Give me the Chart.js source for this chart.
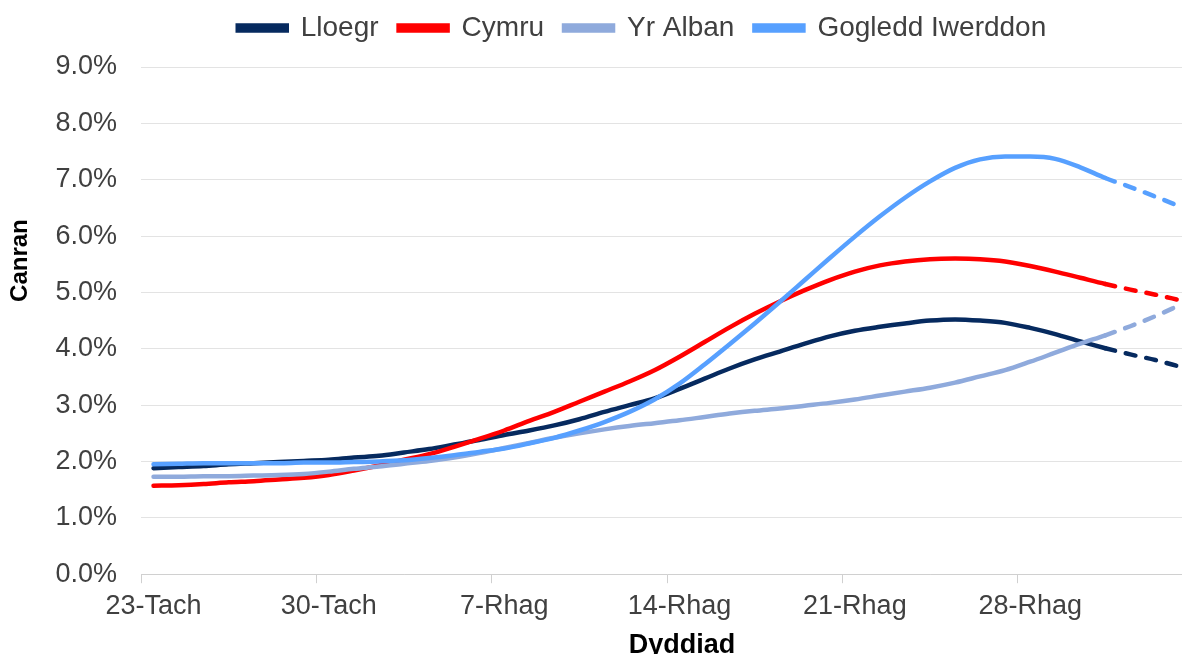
<!DOCTYPE html>
<html>
<head>
<meta charset="utf-8">
<script src="https://cdn.jsdelivr.net/npm/chart.js@4.4.1/dist/chart.umd.min.js"></script>
<style>
  html, body { margin: 0; padding: 0; overflow: hidden; background: #fff; }
  canvas { display: block; }
</style>
</head>
<body>
<canvas id="chart-canran" width="1284" height="670"></canvas>
<script>
var dyddiadau = [
    '23-Tach', '24-Tach', '25-Tach', '26-Tach', '27-Tach', '28-Tach', '29-Tach', '30-Tach',
    '1-Rhag', '2-Rhag', '3-Rhag', '4-Rhag', '5-Rhag', '6-Rhag', '7-Rhag', '8-Rhag',
    '9-Rhag', '10-Rhag', '11-Rhag', '12-Rhag', '13-Rhag', '14-Rhag', '15-Rhag', '16-Rhag',
    '17-Rhag', '18-Rhag', '19-Rhag', '20-Rhag', '21-Rhag', '22-Rhag', '23-Rhag', '24-Rhag',
    '25-Rhag', '26-Rhag', '27-Rhag', '28-Rhag', '29-Rhag', '30-Rhag', '31-Rhag',
    '1-Ion', '2-Ion', '3-Ion'
];

var lloegr = [1.88, 1.90, 1.92, 1.95, 1.97, 1.99, 2.01, 2.03, 2.07, 2.10,
    2.16, 2.22, 2.30, 2.38, 2.47, 2.55, 2.64, 2.75, 2.88, 3.00,
    3.12, 3.29, 3.47, 3.65, 3.81, 3.95, 4.09, 4.22, 4.32, 4.39,
    4.45, 4.50, 4.52, 4.50, 4.46, 4.37, 4.26, 4.13, 4.01, 3.90,
    3.80, 3.68];
var cymru = [1.57, 1.58, 1.60, 1.63, 1.65, 1.68, 1.71, 1.76, 1.84, 1.93,
    2.03, 2.13, 2.26, 2.40, 2.55, 2.72, 2.88, 3.06, 3.24, 3.42,
    3.62, 3.86, 4.12, 4.38, 4.62, 4.84, 5.04, 5.22, 5.37, 5.48,
    5.55, 5.59, 5.60, 5.59, 5.55, 5.47, 5.37, 5.26, 5.15, 5.05,
    4.96, 4.86];
var yrAlban = [1.73, 1.73, 1.74, 1.74, 1.75, 1.76, 1.78, 1.82, 1.87, 1.91,
    1.96, 2.01, 2.07, 2.15, 2.24, 2.33, 2.42, 2.50, 2.57, 2.63,
    2.68, 2.73, 2.79, 2.85, 2.90, 2.94, 2.99, 3.04, 3.10, 3.17,
    3.24, 3.31, 3.40, 3.51, 3.62, 3.77, 3.93, 4.09, 4.24, 4.40,
    4.58, 4.78];
var gogleddIwerddon = [1.95, 1.96, 1.97, 1.97, 1.97, 1.97, 1.98, 1.98, 1.99, 2.00,
    2.02, 2.06, 2.11, 2.17, 2.23, 2.32, 2.42, 2.55, 2.70, 2.88,
    3.10, 3.38, 3.72, 4.08, 4.45, 4.83, 5.22, 5.61, 5.99, 6.35,
    6.68, 6.97, 7.21, 7.36, 7.41, 7.41, 7.37, 7.22, 7.03, 6.87,
    6.70, 6.52];

var yTicks = ['0.0%', '1.0%', '2.0%', '3.0%', '4.0%', '5.0%', '6.0%', '7.0%', '8.0%', '9.0%'];

// the last days are an estimate, drawn dashed
var dechrauAmcan = 38;
var ffont = "'Liberation Sans', Arial, sans-serif";

function llinell(label, data, colour, order) {
    return {
        label: label,
        data: data,
        borderColor: colour,
        backgroundColor: colour,
        borderWidth: 4.5,
        borderCapStyle: 'round',
        pointRadius: 0,
        cubicInterpolationMode: 'monotone',
        order: order,
        segment: {
            borderDash: function(ctx) {
                return ctx.p0DataIndex >= dechrauAmcan ? [10, 11] : undefined;
            }
        }
    };
}

var ctx = document.getElementById('chart-canran').getContext('2d');
var myChart = new Chart(ctx, {
    type: 'line',
    data: {
        labels: dyddiadau,
        datasets: [
            llinell('Lloegr', lloegr, '#062a5f', 4),
            llinell('Cymru', cymru, '#ff0000', 3),
            llinell('Yr Alban', yrAlban, '#8faadc', 2),
            llinell('Gogledd Iwerddon', gogleddIwerddon, '#57a0ff', 1)
        ]
    },
    options: {
        responsive: false,
        devicePixelRatio: 1,
        animation: false,
        layout: { padding: { top: -6, left: 0, right: 0, bottom: 0 } },
        plugins: {
            tooltip: { enabled: false },
            legend: {
                position: 'top',
                labels: {
                    boxWidth: 49,
                    boxHeight: 5,
                    padding: 20,
                    color: '#404040',
                    font: { family: ffont, size: 28 },
                    sort: function(a, b) { return a.datasetIndex - b.datasetIndex; }
                }
            },
            subtitle: {
                display: true,
                text: '',
                position: 'top',
                weight: 500,
                font: { size: 1, lineHeight: 1 },
                padding: { top: 0, bottom: 14 }
            }
        },
        scales: {
            x: {
                offset: true,
                grid: {
                    display: true,
                    offset: true,
                    drawOnChartArea: false,
                    drawTicks: true,
                    tickLength: 9,
                    color: function(c) { return c.index % 7 === 0 ? '#d0d0d0' : 'rgba(0,0,0,0)'; }
                },
                border: { display: true, color: '#d0d0d0', width: 1 },
                ticks: {
                    autoSkip: false,
                    maxRotation: 0,
                    minRotation: 0,
                    padding: 7,
                    color: '#404040',
                    font: { family: ffont, size: 27 },
                    callback: function(v, i) { return i % 7 === 0 ? dyddiadau[i] : ''; }
                },
                title: {
                    display: true,
                    text: '    Dyddiad',
                    color: '#000',
                    font: { family: ffont, size: 27, weight: 'bold' },
                    padding: { top: 0, bottom: 8 }
                }
            },
            y: {
                min: 0,
                max: 9,
                grid: { color: '#e3e3e3', drawTicks: false },
                border: { display: false },
                ticks: {
                    stepSize: 1,
                    padding: 24,
                    color: '#404040',
                    font: { family: ffont, size: 27 },
                    callback: function(v, i) { return yTicks[i]; }
                },
                title: {
                    display: true,
                    text: '                  Canran',
                    color: '#000',
                    font: { family: ffont, size: 24, weight: 'bold' },
                    padding: { top: 6, bottom: 0 }
                },
                afterFit: function(s) { s.width = 141; }
            },
            yDde: {
                type: 'linear',
                position: 'right',
                display: true,
                grid: { display: false },
                border: { display: false },
                ticks: { display: false },
                afterFit: function(s) { s.width = 91; }
            }
        }
    }
});
</script>
</body>
</html>
